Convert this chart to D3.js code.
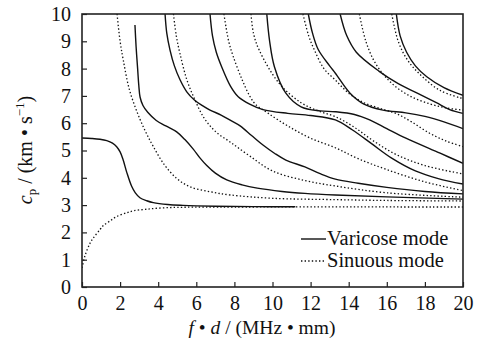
<!DOCTYPE html>
<html>
<head>
<meta charset="utf-8">
<script src="https://cdn.jsdelivr.net/npm/d3@7/dist/d3.min.js"></script>
<style>
  body { margin: 0; background: #fff; }
  svg { display: block; }
  text { font-family: "Liberation Serif", "Times New Roman", serif; fill: #111; }
</style>
</head>
<body>
<div id="chart"></div>
<script>
// axis ticks
const xTicks = [0, 2, 4, 6, 8, 10, 12, 14, 16, 18, 20];
const yTicks = [0, 1, 2, 3, 4, 5, 6, 7, 8, 9, 10];

// varicose (solid) modes, [f*d, cp]
const varicose0 = [[0,5.46],[0.5,5.44],[0.94,5.41],[1.3,5.36],[1.6,5.27],[1.82,5.14],[2.0,4.95],[2.15,4.68],[2.35,4.2],[2.6,3.7],[2.8,3.45],[3.04,3.27],[3.4,3.16],[3.74,3.09],[4.5,3.02],[5.3,2.99],[7,2.96],[9,2.945],[11.2,2.94]];
const varicose1 = [[2.78,9.6],[2.84,8.8],[2.92,8.0],[2.98,7.4],[3.05,6.95],[3.2,6.65],[3.45,6.4],[3.9,6.1],[4.4,5.9],[4.97,5.68],[5.4,5.4],[5.84,5.05],[6.2,4.72],[6.55,4.45],[7.0,4.17],[7.6,3.92],[8.4,3.74],[9.2,3.62],[10.5,3.5],[11.7,3.43],[13.3,3.37],[16,3.3],[20,3.22]];
const varicose2 = [[4.36,10],[4.45,9.3],[4.62,8.68],[4.85,8.1],[5.14,7.6],[5.5,7.15],[5.9,6.85],[6.3,6.65],[6.72,6.48],[7.3,6.3],[7.8,6.1],[8.3,5.9],[8.9,5.55],[9.5,5.2],[10.1,4.9],[10.7,4.65],[11.7,4.4],[12.5,4.15],[13.3,3.95],[14.5,3.8],[16,3.65],[18,3.5],[20,3.41]];
const varicose3 = [[6.72,10],[6.85,9.2],[7.05,8.6],[7.33,8.07],[7.8,7.35],[8.2,6.97],[8.8,6.7],[9.5,6.5],[10.8,6.36],[12,6.28],[13.3,6.12],[14.2,5.75],[15.2,5.25],[16.3,4.7],[17.5,4.25],[18.7,3.97],[20,3.77]];
const varicose4 = [[9.7,10],[9.85,9.0],[10.1,8.07],[10.7,7.1],[11.5,6.6],[12.5,6.45],[13.3,6.42],[14.3,6.32],[15.1,6.12],[16,5.8],[17,5.45],[18.8,4.9],[20,4.53]];
const varicose5 = [[11.88,10],[12.1,9.3],[12.4,8.7],[13.0,8.1],[13.3,7.83],[14.07,7.1],[14.8,6.7],[15.8,6.48],[17,6.38],[18,6.25],[19,6.05],[20,5.8]];
const varicose6 = [[13.55,10],[13.9,9.2],[14.4,8.6],[15.6,7.9],[16.6,7.45],[17.6,7.1],[18.6,6.75],[19.3,6.5],[20,6.36]];
const varicose7 = [[16.5,10],[16.7,9.2],[17.04,8.6],[17.5,8.1],[18.1,7.7],[19,7.3],[20,7.02]];

// sinuous (dotted) modes
const sinuous0 = [[0,0.7],[0.16,1.15],[0.42,1.6],[0.6,1.8],[0.94,2.1],[1.12,2.25],[1.47,2.42],[1.82,2.58],[2.35,2.72],[2.7,2.79],[3.4,2.85],[4.27,2.9],[5.3,2.92],[8,2.93],[20,2.93]];
const sinuous1 = [[1.84,10],[2.0,9.0],[2.17,8.3],[2.5,7.2],[3.04,6.15],[3.4,5.6],[3.74,5.15],[4.3,4.5],[4.97,3.98],[5.67,3.67],[6.72,3.49],[7.8,3.37],[10,3.25],[13.3,3.2],[16,3.17],[20,3.15]];
const sinuous2 = [[4.8,10],[4.95,9.2],[5.14,8.56],[5.5,7.6],[5.9,6.9],[6.4,6.2],[7,5.7],[7.8,5.3],[8.8,4.8],[10,4.25],[11.7,3.9],[13.3,3.7],[16,3.45],[20,3.29]];
const sinuous3 = [[7.45,10],[7.7,9.0],[7.94,8.44],[8.4,7.6],[8.8,7.0],[9.1,6.7],[9.8,6.35],[10.8,5.9],[12,5.45],[13.3,5.1],[14.5,4.7],[16,4.3],[18,3.85],[20,3.53]];
const sinuous4 = [[8.87,10],[9.0,9.3],[9.3,8.68],[10.35,7.46],[11.5,6.75],[12.4,6.45],[13.3,6.24],[14.3,5.85],[15.3,5.35],[16.5,4.85],[18,4.45],[20,4.14]];
const sinuous5 = [[11.6,10],[11.9,9.2],[12.2,8.68],[12.7,8.0],[13.3,7.58],[14,7.1],[14.8,6.75],[15.6,6.55],[16.5,6.35],[17.3,6.05],[18.2,5.65],[19.1,5.35],[20,5.14]];
const sinuous6 = [[14.56,10],[14.9,9.0],[15.4,8.2],[16.2,7.5],[17.2,7.0],[18.3,6.7],[19.2,6.55],[20,6.48]];
const sinuous7 = [[16.26,10],[16.6,9.0],[17.1,8.3],[17.8,7.75],[18.8,7.2],[20,6.9]];

const varicose = [varicose0, varicose1, varicose2, varicose3, varicose4, varicose5, varicose6, varicose7];
const sinuous = [sinuous0, sinuous1, sinuous2, sinuous3, sinuous4, sinuous5, sinuous6, sinuous7];

const width = 490, height = 341;
const margin = { left: 82, right: 27, top: 14, bottom: 54 };

const svg = d3.select("#chart").append("svg")
  .attr("width", width)
  .attr("height", height);

const x = d3.scaleLinear().domain([0, 20]).range([margin.left, width - margin.right]);
const y = d3.scaleLinear().domain([0, 10]).range([height - margin.bottom, margin.top]);

svg.append("clipPath").attr("id", "plot-clip")
  .append("rect")
  .attr("x", x(0)).attr("y", y(10))
  .attr("width", x(20) - x(0)).attr("height", y(0) - y(10));

const line = d3.line()
  .x(d => x(d[0]))
  .y(d => y(d[1]))
  .curve(d3.curveCatmullRom.alpha(0.5));

const curves = svg.append("g").attr("clip-path", "url(#plot-clip)");

curves.selectAll(".sinuous")
  .data(sinuous)
  .join("path")
  .attr("class", "sinuous")
  .attr("d", line)
  .attr("fill", "none")
  .attr("stroke", "#111")
  .attr("stroke-width", 1.3)
  .attr("stroke-dasharray", "1.4,2.2");

curves.selectAll(".varicose")
  .data(varicose)
  .join("path")
  .attr("class", "varicose")
  .attr("d", line)
  .attr("fill", "none")
  .attr("stroke", "#111")
  .attr("stroke-width", 1.4);

// frame
svg.append("rect")
  .attr("x", x(0)).attr("y", y(10))
  .attr("width", x(20) - x(0)).attr("height", y(0) - y(10))
  .attr("fill", "none")
  .attr("stroke", "#222")
  .attr("stroke-width", 1.6);

// axes, ticks pointing inward
const xAxis = d3.axisBottom(x).tickValues(xTicks).tickSizeInner(-5).tickSizeOuter(0).tickPadding(9);
const yAxis = d3.axisLeft(y).tickValues(yTicks).tickSizeInner(-5).tickSizeOuter(0).tickPadding(11);

const gx = svg.append("g")
  .attr("transform", `translate(0, ${y(0)})`)
  .call(xAxis);
const gy = svg.append("g")
  .attr("transform", `translate(${x(0)}, 0)`)
  .call(yAxis);

[gx, gy].forEach(g => {
  g.select(".domain").remove();
  g.selectAll(".tick line").attr("stroke", "#222").attr("stroke-width", 1.2);
  g.selectAll(".tick text")
    .attr("fill", "#111")
    .style("font-family", "'Liberation Serif', serif")
    .style("font-size", "20px");
});
gx.selectAll(".tick text").attr("dy", "0.71em");

// axis titles
svg.append("text")
  .attr("x", 262).attr("y", 334)
  .attr("text-anchor", "middle")
  .style("font-size", "19.5px")
  .html('<tspan font-style="italic">f</tspan> \u2022 <tspan font-style="italic">d</tspan> / (MHz \u2022 mm)');

svg.append("text")
  .attr("transform", "translate(32, 150) rotate(-90)")
  .attr("text-anchor", "middle")
  .style("font-size", "20px")
  .html('<tspan font-style="italic">c</tspan><tspan font-size="13px" dy="4">p</tspan><tspan dy="-4"> / (km \u2022 s</tspan><tspan font-size="13px" dy="-8">\u22121</tspan><tspan dy="8">)</tspan>');

// legend
const legend = svg.append("g");
const legendItems = [
  { label: "Varicose mode", dash: null, yPos: 239 },
  { label: "Sinuous mode", dash: "1.4,2.2", yPos: 261 }
];
legendItems.forEach(item => {
  legend.append("line")
    .attr("x1", 301).attr("x2", 326)
    .attr("y1", item.yPos).attr("y2", item.yPos)
    .attr("stroke", "#111")
    .attr("stroke-width", 1.4)
    .attr("stroke-dasharray", item.dash);
  legend.append("text")
    .attr("x", 327).attr("y", item.yPos + 6)
    .style("font-size", "20.5px")
    .text(item.label);
});
</script>
</body>
</html>
